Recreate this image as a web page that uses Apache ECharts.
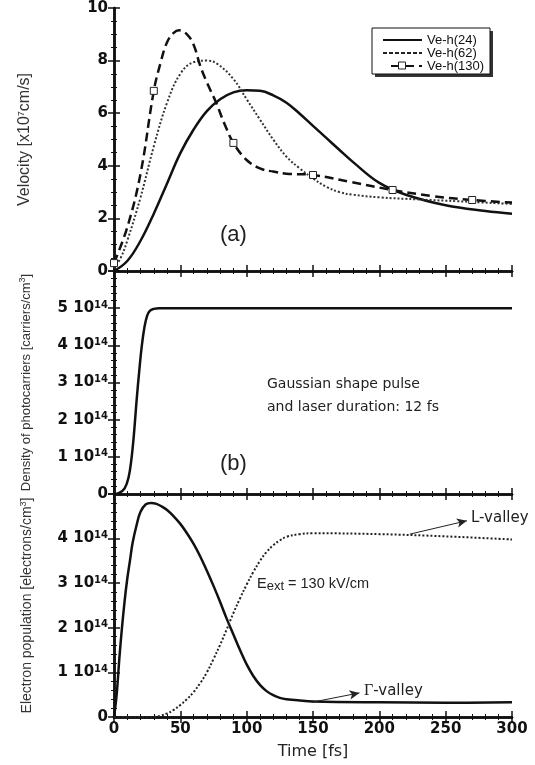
<!DOCTYPE html>
<html><head><meta charset="utf-8">
<script src="https://cdn.jsdelivr.net/npm/echarts@6/dist/echarts.min.js"></script>
<style>html,body{margin:0;padding:0;background:#fff}#c{width:535px;height:765px}</style>
</head><body><div id="c"></div>
<script>
// ---- Panel (a): velocity [x10^7 cm/s] vs time [fs]
const t24 = [0,10,20,30,40,50,60,70,80,90,100,110,120,130,140,150,160,170,180,200,220,250,280,300];
const v24 = [0,0.38,1.15,2.18,3.33,4.48,5.38,6.08,6.53,6.79,6.87,6.85,6.68,6.4,5.98,5.52,5.06,4.6,4.15,3.35,2.9,2.5,2.28,2.18];
const t62 = [0,5,10,20,30,40,50,60,70,78,90,100,110,120,130,140,150,160,170,180,200,230,260,300];
const v62 = [0.1,0.5,1.15,2.8,4.74,6.4,7.5,7.94,8.0,7.87,7.3,6.53,5.76,5.0,4.35,3.9,3.52,3.2,3.0,2.9,2.8,2.72,2.65,2.55];
const t130 = [0,10,20,30,35,40,45,49,55,60,65,70,77,83,90,100,110,120,130,150,178,210,240,270,300];
const v130 = [0.3,1.66,3.7,6.85,7.9,8.7,9.05,9.15,9.0,8.6,7.8,7.17,6.4,5.63,4.87,4.22,3.9,3.78,3.7,3.65,3.39,3.08,2.85,2.7,2.6];
const t130Marks = [0,30,90,150,210,270];
// ---- Panel (b): density of photocarriers [10^14 carriers/cm^3]
const tDen = [0,4,8,11,13,15,17,19,21,23,25,27,30,34,40,300];
const nDen = [0,0.03,0.15,0.45,0.9,1.6,2.5,3.3,4.0,4.5,4.8,4.93,4.98,5.0,5.0,5.0];
// ---- Panel (c): electron population [10^14 electrons/cm^3]
const tGam = [0,2,4,6,8,10,12,14,17,20,24,28,32,36,40,45,50,55,60,65,70,75,80,85,90,95,100,105,110,115,120,125,130,140,150,200,250,300];
const nGam = [0,0.5,1.3,2.0,2.6,3.1,3.5,3.9,4.3,4.6,4.77,4.8,4.78,4.72,4.64,4.5,4.33,4.12,3.88,3.6,3.28,2.94,2.58,2.2,1.85,1.5,1.18,0.92,0.72,0.58,0.49,0.43,0.4,0.37,0.35,0.33,0.32,0.33];
const tL = [0,30,35,40,45,50,55,60,65,70,75,80,85,90,95,100,105,110,115,120,125,130,140,150,200,250,300];
const nL = [0,0,0.03,0.08,0.16,0.27,0.4,0.56,0.76,1.0,1.3,1.62,1.97,2.33,2.66,2.97,3.25,3.5,3.7,3.85,3.96,4.04,4.1,4.12,4.1,4.05,3.98];
const xTicks = [0,50,100,150,200,250,300];
const legendNames = ['Ve-h(24)','Ve-h(62)','Ve-h(130)'];

const zip = (t, v) => t.map((x, i) => [x, v[i]]);
const FONT = 'Liberation Sans';
const TICKFONT = 'DejaVu Sans';
const grids = [
  {left:114, right:23, top:8, height:263},
  {left:114, right:23, top:271, height:223},
  {left:114, right:23, top:494, height:223}
];
const axisLine = {show:true, lineStyle:{color:'#111', width:2.5}};
function xAx(i, pos, labels) {
  return {type:'value', gridIndex:i, position:pos, min:0, max:300, interval:50,
    axisLine, splitLine:{show:false},
    axisTick:{show:true, inside:true, length:6, lineStyle:{color:'#111', width:1.5}},
    minorTick:{show:true, splitNumber:5, length:3, lineStyle:{color:'#111', width:1}},
    axisLabel:{show:labels, fontFamily:TICKFONT, fontWeight:'bold', fontSize:15, color:'#111', margin:5,
      customValues: xTicks},
    name: labels ? 'Time [fs]' : '', nameLocation:'middle', nameGap:27, nameMoveOverlap:false,
    nameTextStyle:{fontFamily:TICKFONT, fontSize:16, color:'#222'}};
}
const sup14 = v => v === 0 ? '{b|0}' : '{b|' + v + ' 10}{s|14}';
function yAx(i, pos, max, interval, minor, labels, fmt, name, nameGap, nameSize) {
  return {type:'value', gridIndex:i, position:pos, min:0, max:max, interval:interval,
    axisLine, splitLine:{show:false},
    axisTick:{show:true, inside:true, length:6, lineStyle:{color:'#111', width:1.5}},
    minorTick:{show:true, splitNumber:minor, length:3, lineStyle:{color:'#111', width:1}},
    axisLabel:{show:labels, formatter:fmt, margin:6, showMaxLabel: i === 0,
      fontFamily:TICKFONT, fontWeight:'bold', fontSize:15, color:'#111',
      rich:{b:{fontFamily:TICKFONT, fontWeight:'bold', fontSize:15, color:'#111'},
            s:{fontFamily:TICKFONT, fontWeight:'bold', fontSize:10, color:'#111', verticalAlign:'top', padding:[0,0,6,0]}}},
    name:name || '', nameLocation:'middle', nameGap:nameGap || 0, nameRotate:90, nameMoveOverlap:false,
    nameTextStyle:{fontFamily:FONT, fontSize:nameSize || 14, color:'#333',
      rich:{n:{fontFamily:FONT, fontSize:nameSize || 14, color:'#333'},
            s:{fontFamily:FONT, fontSize:9, color:'#333', verticalAlign:'top', padding:[0,0,7,0]}}}};
}
const velFmt = v => '{b|' + v + '}';

// legend drawn as graphic (box, shadow, line samples, labels)
const LG = {x:372, y:28, w:118, h:46, rows:[40,53,66], lx0:383, lx1:422, tx:427};
const legendGraphic = [
  {type:'rect', shape:{x:LG.x+3, y:LG.y+3, width:LG.w, height:LG.h}, style:{fill:'#333'}, z:10},
  {type:'rect', shape:{x:LG.x, y:LG.y, width:LG.w, height:LG.h}, style:{fill:'#fff', stroke:'#111', lineWidth:1}, z:11},
  {type:'line', shape:{x1:LG.lx0, y1:LG.rows[0], x2:LG.lx1, y2:LG.rows[0]}, style:{stroke:'#111', lineWidth:2}, z:12},
  {type:'line', shape:{x1:LG.lx0, y1:LG.rows[1], x2:LG.lx1, y2:LG.rows[1]}, style:{stroke:'#222', lineWidth:2, lineDash:[4,2]}, z:12},
  {type:'line', shape:{x1:LG.lx0+8, y1:LG.rows[2], x2:LG.lx1, y2:LG.rows[2]}, style:{stroke:'#111', lineWidth:2, lineDash:[9,5]}, z:12},
  {type:'rect', shape:{x:(LG.lx0+LG.lx1)/2-4, y:LG.rows[2]-4, width:7, height:7}, style:{fill:'#fff', stroke:'#222', lineWidth:1}, z:13}
].concat(legendNames.map((n, i) => ({type:'text', x:LG.tx, y:LG.rows[i], z:12,
  style:{text:n, font:'13px "Liberation Sans"', fill:'#111', verticalAlign:'middle'}})));

const option = {
  animation:false,
  grid: grids,
  xAxis: [xAx(0,'bottom',false), xAx(0,'top',false), xAx(1,'bottom',false), xAx(1,'top',false), xAx(2,'bottom',true), xAx(2,'top',false)],
  yAxis: [
    yAx(0,'left',10,2,4,true,velFmt,'{n|Velocity [x10}{s|7}{n|cm/s]}',81,16),
    yAx(0,'right',10,2,4,false),
    yAx(1,'left',6,1,5,true,sup14,'{n|Density of photocarriers [carriers/cm}{s|3}{n|]}',80,13),
    yAx(1,'right',6,1,5,false),
    yAx(2,'left',5,1,5,true,sup14,'{n|Electron population [electrons/cm}{s|3}{n|]}',79,14),
    yAx(2,'right',5,1,5,false)
  ],
  graphic: legendGraphic.concat([
    {type:'text', left:220, top:224, style:{text:'(a)', font:'22px "Liberation Sans"', fill:'#222'}},
    {type:'text', left:220, top:453, style:{text:'(b)', font:'22px "Liberation Sans"', fill:'#222'}},
    {type:'text', left:267, top:377, style:{text:'Gaussian shape pulse', font:'14px "DejaVu Sans"', fill:'#222'}},
    {type:'text', left:267, top:400, style:{text:'and laser duration: 12 fs', font:'14px "DejaVu Sans"', fill:'#222'}},
    {type:'text', left:257, top:576, style:{text:'{n|E}{s|ext}{n| = 130 kV/cm}', font:'14px "Liberation Sans"', fill:'#222',
      rich:{n:{fontFamily:FONT, fontSize:14.5, fill:'#222'}, s:{fontFamily:FONT, fontSize:13, fill:'#222', verticalAlign:'bottom', padding:[6,0,0,0]}}}},
    {type:'text', left:471, top:511, style:{text:'L-valley', font:'15px "DejaVu Sans"', fill:'#222'}},
    {type:'text', left:364, top:683, style:{text:'{g|\u0393}{n|-valley}', font:'15px "DejaVu Sans"', fill:'#222',
      rich:{g:{fontFamily:'Liberation Serif', fontSize:16, fill:'#222'}, n:{fontFamily:TICKFONT, fontSize:15, fill:'#222'}}}}
  ]),
  series: [
    {name:legendNames[0], type:'line', xAxisIndex:0, yAxisIndex:0, data:zip(t24,v24), smooth:0.4, symbol:'none',
      lineStyle:{color:'#111', width:2.5}},
    {name:legendNames[1], type:'line', xAxisIndex:0, yAxisIndex:0, data:zip(t62,v62), smooth:0.4, symbol:'none',
      lineStyle:{color:'#333', width:2, type:[2,2]}},
    {name:legendNames[2], type:'line', xAxisIndex:0, yAxisIndex:0, smooth:0.4, symbol:'rect', symbolSize:7, showSymbol:true, showAllSymbol:true,
      data: zip(t130,v130).map(p => t130Marks.includes(p[0]) ? {value:p} : {value:p, symbol:'none'}),
      lineStyle:{color:'#111', width:2.5, type:[9,5]}, itemStyle:{color:'#fff', borderColor:'#222', borderWidth:1}},
    {name:'density', type:'line', xAxisIndex:2, yAxisIndex:2, data:zip(tDen,nDen), smooth:0.4, symbol:'none',
      lineStyle:{color:'#111', width:2.5}},
    {name:'gamma', type:'line', xAxisIndex:4, yAxisIndex:4, data:zip(tGam,nGam), smooth:0.4, symbol:'none',
      lineStyle:{color:'#111', width:2.5},
      markLine:{silent:true, symbol:['none','arrow'], symbolSize:[7,10], label:{show:false},
        lineStyle:{color:'#222', width:1, type:'solid'}, emphasis:{disabled:true},
        data:[[{coord:[149,0.33]},{coord:[185,0.54]}]]}},
    {name:'L', type:'line', xAxisIndex:4, yAxisIndex:4, data:zip(tL,nL), smooth:0.4, symbol:'none',
      lineStyle:{color:'#222', width:2, type:[2,2]},
      markLine:{silent:true, symbol:['none','arrow'], symbolSize:[7,10], label:{show:false},
        lineStyle:{color:'#222', width:1, type:'solid'}, emphasis:{disabled:true},
        data:[[{coord:[223,4.1]},{coord:[266,4.4]}]]}}
  ]
};
const chart = echarts.init(document.getElementById('c'), null, {renderer:'canvas'});
chart.setOption(option);
</script></body></html>
